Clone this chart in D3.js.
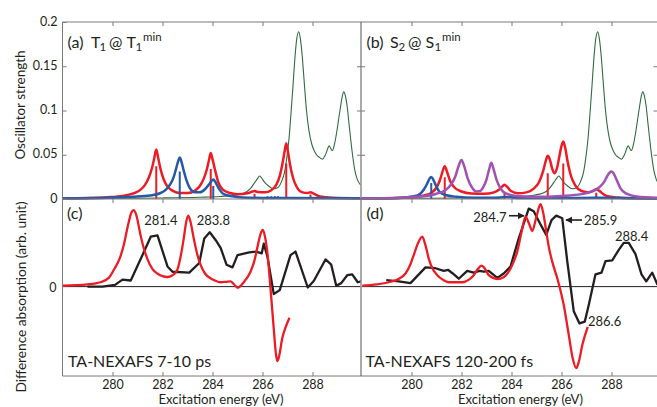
<!DOCTYPE html>
<html><head><meta charset="utf-8">
<script src="https://cdn.jsdelivr.net/npm/d3@7"></script>
<style>
body{margin:0;background:#fff;}
svg{display:block;font-family:Lato,"Open Sans",sans-serif;}
</style></head><body>
<svg id="chart" width="657" height="407"></svg>
<script>
// ---------------- data ----------------
const xTicks = [280, 282, 284, 286, 288];
const yTicksTop = [0, 0.05, 0.1, 0.15, 0.2];
const yTickLabelsTop = ["0", "0.05", "0.1", "0.15", "0.2"];

// ground-state spectrum (green), same in (a) and (b)
const greenSpec = [[278.0,0.0005],[280.0,0.0008],[282.0,0.0012],[283.5,0.002],[284.3,0.0028],[284.8,0.004],[285.12,0.0055],[285.35,0.008],[285.52,0.012],[285.7,0.019],[285.8,0.023],[285.88,0.026],[285.96,0.024],[286.08,0.019],[286.23,0.015],[286.45,0.0115],[286.62,0.013],[286.76,0.0196],[286.88,0.030],[286.96,0.044],[287.06,0.068],[287.13,0.093],[287.22,0.128],[287.29,0.157],[287.37,0.181],[287.45,0.189],[287.52,0.180],[287.59,0.161],[287.68,0.128],[287.76,0.100],[287.86,0.077],[287.96,0.063],[288.06,0.055],[288.16,0.050],[288.28,0.047],[288.40,0.045],[288.50,0.049],[288.56,0.053],[288.62,0.058],[288.67,0.060],[288.73,0.057],[288.79,0.0546],[288.88,0.062],[288.96,0.074],[289.04,0.089],[289.12,0.104],[289.19,0.116],[289.25,0.121],[289.32,0.116],[289.39,0.104],[289.46,0.085],[289.53,0.067],[289.61,0.048],[289.69,0.033],[289.78,0.023],[289.92,0.016]];

// (a) T1 @ T1min
const redA = [[278.0,0.0008],[279.0,0.0012],[279.8,0.002],[280.4,0.0035],[280.8,0.006],[281.1,0.010],[281.3,0.016],[281.45,0.024],[281.58,0.035],[281.67,0.046],[281.75,0.056],[281.83,0.046],[281.92,0.034],[282.05,0.022],[282.2,0.014],[282.4,0.0095],[282.7,0.0068],[283.0,0.0068],[283.3,0.0095],[283.5,0.015],[283.65,0.023],[283.77,0.033],[283.86,0.044],[283.93,0.052],[284.0,0.045],[284.1,0.033],[284.22,0.02],[284.4,0.011],[284.7,0.0068],[285.0,0.0055],[285.4,0.0065],[285.6,0.0085],[285.68,0.009],[285.8,0.008],[286.1,0.0075],[286.35,0.010],[286.55,0.016],[286.7,0.027],[286.8,0.040],[286.88,0.053],[286.95,0.063],[287.02,0.053],[287.1,0.039],[287.22,0.024],[287.38,0.013],[287.6,0.0075],[287.8,0.0068],[287.92,0.0075],[288.05,0.006],[288.3,0.0028],[288.8,0.0015],[289.92,0.0008]];
const blueA = [[278.0,0.0007],[279.5,0.0012],[280.8,0.0025],[281.5,0.004],[281.9,0.0065],[282.15,0.011],[282.32,0.017],[282.45,0.025],[282.56,0.036],[282.63,0.043],[282.69,0.047],[282.76,0.042],[282.84,0.033],[282.95,0.022],[283.1,0.012],[283.3,0.0075],[283.5,0.0075],[283.7,0.011],[283.85,0.016],[283.95,0.020],[284.03,0.022],[284.12,0.019],[284.25,0.012],[284.45,0.0055],[284.8,0.003],[285.2,0.0018],[286.0,0.0012],[287.0,0.0012],[289.92,0.0006]];
const redSticksA = [[281.75,0.037],[283.93,0.034],[285.68,0.006],[286.3,0.002],[286.5,0.0025],[286.95,0.040],[287.92,0.005]];
const blueSticksA = [[282.69,0.031],[284.03,0.0147],[286.2,0.003],[286.35,0.003],[286.5,0.003],[286.62,0.003],[286.8,0.002],[287.3,0.002],[287.55,0.002]];

// (b) S2 @ S1min
const blueB = [[278.0,0.0005],[279.5,0.0012],[280.1,0.003],[280.35,0.006],[280.5,0.011],[280.62,0.017],[280.72,0.023],[280.79,0.025],[280.87,0.022],[280.98,0.015],[281.12,0.008],[281.35,0.0045],[281.8,0.0025],[282.5,0.0015],[283.5,0.0015],[283.8,0.0022],[284.2,0.0012],[286.0,0.001],[287.39,0.0015],[289.92,0.0005]];
const redB = [[278.0,0.0006],[279.5,0.0012],[280.2,0.0025],[280.5,0.004],[280.8,0.007],[281.0,0.013],[281.12,0.020],[281.22,0.029],[281.33,0.037],[281.43,0.030],[281.55,0.020],[281.72,0.013],[282.0,0.0085],[282.4,0.0062],[282.9,0.0058],[283.3,0.0075],[283.52,0.011],[283.64,0.0145],[283.72,0.016],[283.82,0.014],[283.98,0.009],[284.25,0.0065],[284.6,0.0075],[284.9,0.012],[285.1,0.019],[285.27,0.032],[285.38,0.044],[285.45,0.049],[285.53,0.045],[285.63,0.034],[285.72,0.029],[285.82,0.035],[285.92,0.049],[286.0,0.060],[286.07,0.065],[286.14,0.059],[286.24,0.043],[286.38,0.026],[286.56,0.015],[286.8,0.009],[287.1,0.0075],[287.3,0.0095],[287.39,0.011],[287.5,0.0095],[287.7,0.005],[287.9,0.0028],[288.5,0.0012],[289.92,0.0006]];
const purpleB = [[278.0,0.0005],[279.5,0.0015],[280.5,0.003],[281.0,0.006],[281.35,0.010],[281.6,0.017],[281.76,0.026],[281.88,0.037],[282.0,0.044],[282.12,0.036],[282.25,0.023],[282.42,0.013],[282.59,0.0085],[282.75,0.009],[282.88,0.014],[283.0,0.022],[283.1,0.033],[283.19,0.041],[283.28,0.034],[283.4,0.022],[283.58,0.011],[283.8,0.006],[284.2,0.0035],[285.0,0.0025],[286.0,0.0035],[286.8,0.0055],[287.2,0.0085],[287.5,0.013],[287.7,0.019],[287.83,0.026],[287.93,0.030],[288.0,0.031],[288.08,0.029],[288.2,0.022],[288.36,0.012],[288.6,0.006],[289.0,0.0028],[289.92,0.0012]];
const redSticksB = [[281.33,0.0245],[283.72,0.007],[285.45,0.029],[286.07,0.040],[287.39,0.007]];
const blueSticksB = [[280.79,0.018],[287.39,0.003]];

// (c) TA-NEXAFS 7-10 ps
const expC = [[279.0,0.0],[279.6,0.0],[280.1,0.02],[280.4,0.08],[280.73,0.07],[281.2,0.36],[281.53,0.57],[281.8,0.585],[282.2,0.23],[282.4,0.17],[283.07,0.16],[283.47,0.27],[283.67,0.55],[283.89,0.62],[284.13,0.53],[284.33,0.44],[284.56,0.25],[284.8,0.22],[285.0,0.36],[285.47,0.39],[285.75,0.40],[285.97,0.38],[286.05,0.49],[286.2,0.34],[286.45,-0.085],[286.69,-0.04],[287.12,0.36],[287.32,0.40],[287.81,-0.01],[288.05,0.065],[288.52,0.31],[288.75,0.25],[288.95,0.01],[289.15,0.04],[289.39,0.13],[289.59,0.14],[289.81,0.05],[289.95,0.06]];
const calcC = [[278.0,0.01],[279.0,0.025],[279.52,0.05],[279.85,0.10],[280.05,0.19],[280.3,0.33],[280.45,0.475],[280.62,0.70],[280.75,0.84],[280.85,0.874],[280.95,0.82],[281.12,0.59],[281.26,0.43],[281.39,0.32],[281.6,0.2],[281.79,0.15],[282.0,0.12],[282.19,0.11],[282.4,0.13],[282.59,0.19],[282.75,0.38],[282.85,0.55],[282.95,0.74],[283.03,0.81],[283.12,0.74],[283.25,0.55],[283.38,0.38],[283.52,0.25],[283.7,0.15],[283.92,0.095],[284.1,0.07],[284.32,0.05],[284.55,0.055],[284.72,0.06],[284.85,0.03],[285.01,-0.013],[285.25,0.05],[285.52,0.17],[285.68,0.30],[285.79,0.44],[285.92,0.6],[286.01,0.646],[286.1,0.57],[286.19,0.40],[286.32,-0.02],[286.45,-0.48],[286.53,-0.75],[286.59,-0.85],[286.66,-0.80],[286.79,-0.59],[286.93,-0.46],[287.08,-0.355]];

// (d) TA-NEXAFS 120-200 fs
const expD = [[278.99,0.075],[279.49,0.06],[279.96,0.04],[280.56,0.22],[280.96,0.21],[281.29,0.18],[281.47,0.19],[281.65,0.15],[281.89,0.09],[282.23,0.18],[282.49,0.16],[282.72,0.18],[282.89,0.17],[283.09,0.18],[283.43,0.10],[283.69,0.15],[283.96,0.23],[284.29,0.55],[284.69,0.89],[284.89,0.86],[285.16,0.71],[285.39,0.59],[285.6,0.76],[285.79,0.81],[286.03,0.78],[286.23,0.29],[286.49,-0.28],[286.72,-0.42],[286.93,-0.40],[287.09,-0.21],[287.36,0.14],[287.6,0.16],[287.76,0.29],[288.03,0.30],[288.29,0.42],[288.49,0.50],[288.69,0.50],[288.96,0.37],[289.2,0.14],[289.39,0.06],[289.63,0.16],[289.84,0.02]];
const calcD = [[278.03,0.01],[278.6,0.025],[279.09,0.05],[279.5,0.09],[279.76,0.15],[279.95,0.25],[280.09,0.36],[280.25,0.49],[280.43,0.57],[280.56,0.47],[280.69,0.32],[280.85,0.2],[281.03,0.13],[281.25,0.08],[281.49,0.05],[282.03,0.05],[282.3,0.08],[282.49,0.13],[282.65,0.2],[282.8,0.24],[282.95,0.2],[283.09,0.13],[283.43,0.087],[283.7,0.11],[283.89,0.17],[284.05,0.26],[284.23,0.40],[284.4,0.62],[284.56,0.80],[284.7,0.72],[284.83,0.635],[285.0,0.80],[285.16,0.94],[285.27,0.84],[285.39,0.63],[285.5,0.44],[285.63,0.285],[285.87,0.056],[286.09,-0.21],[286.29,-0.55],[286.45,-0.82],[286.59,-0.93],[286.7,-0.85],[286.83,-0.67],[287.05,-0.46]];

const peakLabelsC = ["281.4", "283.8"];
const peakLabelsD = ["284.7", "285.9", "288.4", "286.6"];

// ---------------- layout ----------------
const svg = d3.select("#chart");
const C = {red:"#ed1c24", blue:"#2559a8", green:"#2f6b3f", purple:"#a150b4", black:"#231f20", axis:"#7a7a7a", text:"#231f20"};
const xDomain = [278, 289.92];
const xL = d3.scaleLinear().domain(xDomain).range([62.5, 360.5]);
const xR = d3.scaleLinear().domain(xDomain).range([361.5, 659.5]);
const yT = d3.scaleLinear().domain([0, 0.2]).range([199, 22]);
const yB = d3.scaleLinear().domain([-1.02, 1]).range([376, 199]);

const defs = svg.append("defs");
[["clipL", 62.5, 360.5], ["clipR", 361.5, 659.5]].forEach(([id, a, b]) => {
  defs.append("clipPath").attr("id", id + "T").append("rect")
    .attr("x", a).attr("y", 22).attr("width", b - a).attr("height", 179);
  defs.append("clipPath").attr("id", id + "B").append("rect")
    .attr("x", a).attr("y", 199).attr("width", b - a).attr("height", 177);
});
defs.append("marker").attr("id", "arrow").attr("viewBox", "0 0 10 10")
  .attr("refX", 9).attr("refY", 5).attr("markerWidth", 4.5).attr("markerHeight", 4.5)
  .attr("orient", "auto").append("path").attr("d", "M0,0 L10,5 L0,10 z").attr("fill", C.black);

function spec(g, x, y, data, color, w) {
  g.append("path").datum(data).attr("fill", "none").attr("stroke", color)
    .attr("stroke-width", w).attr("stroke-linejoin", "round")
    .attr("d", d3.line().x(d => x(d[0])).y(d => y(d[1])).curve(d3.curveMonotoneX));
}
function poly(g, x, y, data, color, w) {
  g.append("path").datum(data).attr("fill", "none").attr("stroke", color)
    .attr("stroke-width", w).attr("stroke-linejoin", "round")
    .attr("d", d3.line().x(d => x(d[0])).y(d => y(d[1])));
}
function sticks(g, x, data, color) {
  g.selectAll(null).data(data).join("line")
    .attr("x1", d => x(d[0])).attr("x2", d => x(d[0]))
    .attr("y1", yT(0)).attr("y2", d => yT(d[1]))
    .attr("stroke", color).attr("stroke-width", 2);
}

// ---- top panels
const gA = svg.append("g").attr("clip-path", "url(#clipLT)");
spec(gA, xL, yT, greenSpec, C.green, 1.1);
spec(gA, xL, yT, redA, C.red, 2.5);
sticks(gA, xL, redSticksA, C.red);
spec(gA, xL, yT, blueA, C.blue, 2.5);
sticks(gA, xL, blueSticksA, C.blue);

const gBp = svg.append("g").attr("clip-path", "url(#clipRT)");
spec(gBp, xR, yT, greenSpec, C.green, 1.1);
spec(gBp, xR, yT, redB, C.red, 2.5);
sticks(gBp, xR, redSticksB, C.red);
spec(gBp, xR, yT, blueB, C.blue, 2.5);
sticks(gBp, xR, blueSticksB, C.blue);
spec(gBp, xR, yT, purpleB, C.purple, 2.5);

// ---- bottom panels
const gC = svg.append("g").attr("clip-path", "url(#clipLB)");
gC.append("line").attr("x1", xL(xDomain[0])).attr("x2", xL(xDomain[1]))
  .attr("y1", yB(0)).attr("y2", yB(0)).attr("stroke", C.black).attr("stroke-width", 1);
poly(gC, xL, yB, expC, C.black, 2.3);
spec(gC, xL, yB, calcC, C.red, 2.3);

const gD = svg.append("g").attr("clip-path", "url(#clipRB)");
gD.append("line").attr("x1", xR(xDomain[0])).attr("x2", xR(xDomain[1]))
  .attr("y1", yB(0)).attr("y2", yB(0)).attr("stroke", C.black).attr("stroke-width", 1);
poly(gD, xR, yB, expD, C.black, 2.3);
spec(gD, xR, yB, calcD, C.red, 2.3);

// ---- frame
const frame = svg.append("g").attr("stroke", C.axis).attr("stroke-width", 1);
[22, 199, 376].forEach(yy => frame.append("line").attr("x1", xL(xDomain[0])).attr("x2", xR(xDomain[1])).attr("y1", yy).attr("y2", yy));
frame.append("line").attr("x1", 62.5).attr("x2", 62.5).attr("y1", 22).attr("y2", 376);
frame.append("line").attr("x1", 361).attr("x2", 361).attr("y1", 22).attr("y2", 376).attr("stroke", "#555");

function styleAxis(g) {
  g.select(".domain").remove();
  g.selectAll(".tick line").attr("stroke", C.axis);
  g.selectAll("text").attr("fill", C.text).attr("font-family", "Lato").attr("font-size", 12.5);
}
[xL, xR].forEach(x => {
  svg.append("g").attr("transform", "translate(0,22)")
    .call(d3.axisBottom(x).tickValues(xTicks).tickSize(4).tickFormat("")).call(styleAxis);
  svg.append("g").attr("transform", "translate(0,199)")
    .call(d3.axisBottom(x).tickValues(xTicks).tickSize(4).tickFormat("")).call(styleAxis);
  const gb = svg.append("g").attr("transform", "translate(0,376)")
    .call(d3.axisBottom(x).tickValues(xTicks).tickSize(-4).tickFormat(d3.format("d"))).call(styleAxis);
  gb.selectAll("text").attr("dy", null).attr("y", 12.5);
});
const gy = svg.append("g").attr("transform", "translate(62.5,0)")
  .call(d3.axisLeft(yT).tickValues(yTicksTop).tickSize(-4).tickPadding(5)
    .tickFormat((d, i) => yTickLabelsTop[i])).call(styleAxis);
gy.selectAll("text").attr("dy", null).attr("y", 3);
svg.append("g").attr("transform", "translate(361,0)")
  .call(d3.axisLeft(yT).tickValues(yTicksTop.slice(1, 4)).tickSize(4).tickFormat("")).call(styleAxis);
svg.append("g").attr("transform", "translate(361,0)")
  .call(d3.axisRight(yT).tickValues(yTicksTop.slice(1, 4)).tickSize(4).tickFormat("")).call(styleAxis);
svg.append("g").attr("transform", "translate(659.5,0)")
  .call(d3.axisRight(yT).tickValues(yTicksTop.slice(1, 4)).tickSize(-6).tickFormat("")).call(styleAxis);
const gy0 = svg.append("g").attr("transform", "translate(62.5,0)")
  .call(d3.axisLeft(yB).tickValues([0]).tickSize(0).tickPadding(6).tickFormat(d3.format("d"))).call(styleAxis);
gy0.selectAll("text").attr("dy", null).attr("y", 4.5);

// ---- titles
const T = svg.append("g").attr("fill", C.text).attr("font-family", "Lato");
T.append("text").attr("transform", "translate(24.5,105) rotate(-90)").attr("text-anchor", "middle")
  .attr("font-size", 13.5).text("Oscillator strength");
T.append("text").attr("transform", "translate(25.5,297) rotate(-90)").attr("text-anchor", "middle")
  .attr("font-size", 13.7).text("Difference absorption (arb. unit)");
[[xL, 221], [xR, 520.5]].forEach(([x, cx]) => {
  T.append("text").attr("x", cx).attr("y", 404).attr("text-anchor", "middle")
    .attr("font-size", 13.2).text("Excitation energy (eV)");
});

// panel labels (a), (b)
function stateLabel(x0, tag, s, sub1, sub2) {
  const t = T.append("text").attr("font-size", 16);
  t.append("tspan").attr("x", x0).attr("y", 47.5).text(tag);
  t.append("tspan").attr("x", x0 + 23.5).attr("y", 47.5).text(s);
  t.append("tspan").attr("x", x0 + 32).attr("y", 51).attr("font-size", 11.5).text(sub1);
  t.append("tspan").attr("x", x0 + 41.5).attr("y", 47.5).text("@");
  t.append("tspan").attr("x", x0 + 59).attr("y", 47.5).text(s);
  t.append("tspan").attr("x", x0 + 68).attr("y", 51).attr("font-size", 11.5).text(sub2);
  t.append("tspan").attr("x", x0 + 75.5).attr("y", 40.5).attr("font-size", 11.5).text("min");
}
stateLabel(67.5, "(a)", "T", "1", "1");
stateLabel(366.5, "(b)", "S", "2", "1");

T.append("text").attr("x", 67).attr("y", 218.5).attr("font-size", 16).text("(c)");
T.append("text").attr("x", 366.5).attr("y", 218.5).attr("font-size", 16).text("(d)");
T.append("text").attr("x", 68).attr("y", 366.5).attr("font-size", 16).text("TA-NEXAFS 7-10 ps");
T.append("text").attr("x", 365.5).attr("y", 366.5).attr("font-size", 16).text("TA-NEXAFS 120-200 fs");

// peak annotations (placed in data coordinates)
const annC = [[281.27, 0.703, "start"], [283.37, 0.703, "start"]];
annC.forEach((a, i) => T.append("text").attr("x", xL(a[0])).attr("y", yB(a[1]))
  .attr("text-anchor", a[2]).attr("font-size", 13).text(peakLabelsC[i]));
const annD = [[283.8, 0.741, "end"], [286.9, 0.698, "start"], [288.14, 0.515, "start"], [287.06, -0.455, "start"]];
annD.forEach((a, i) => T.append("text").attr("x", xR(a[0])).attr("y", yB(a[1]))
  .attr("text-anchor", a[2]).attr("font-size", 13).text(peakLabelsD[i]));
const arrowsD = [[[283.9, 0.809], [284.5, 0.809]], [[286.82, 0.76], [286.18, 0.76]]];
arrowsD.forEach(([p, q]) => svg.append("line")
  .attr("x1", xR(p[0])).attr("y1", yB(p[1])).attr("x2", xR(q[0])).attr("y2", yB(q[1]))
  .attr("stroke", C.black).attr("stroke-width", 1.6).attr("marker-end", "url(#arrow)"));
</script>
</body></html>
